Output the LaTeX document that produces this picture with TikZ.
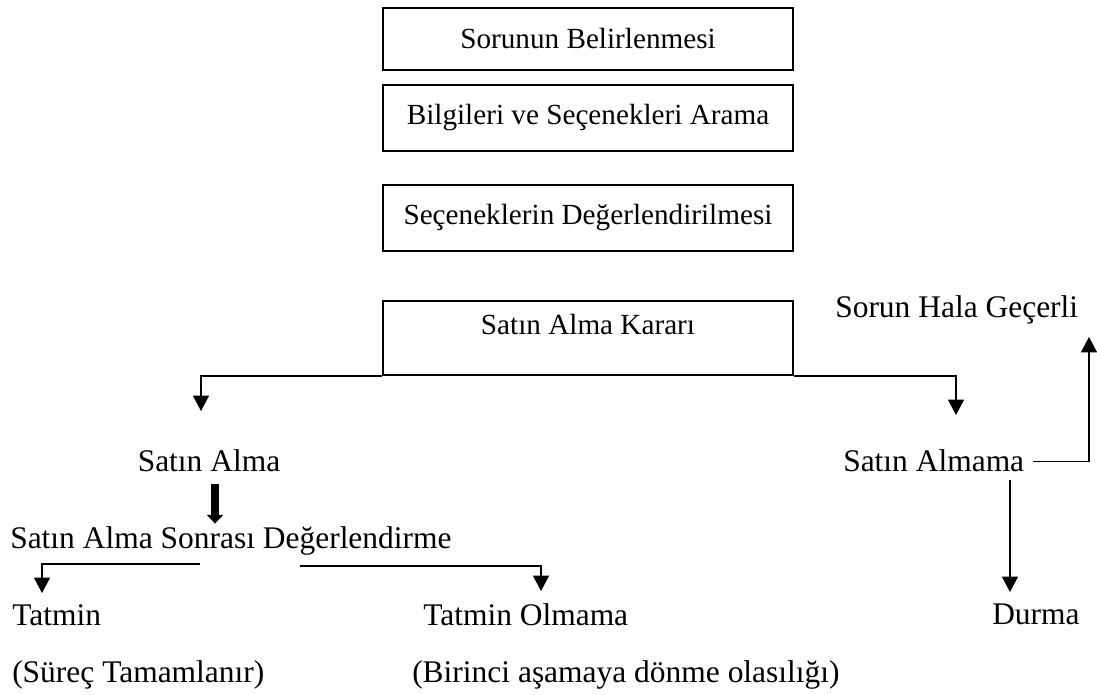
\documentclass[tikz,border=0pt]{standalone}
\usepackage{fontspec}
\setmainfont{Liberation Serif}
\usetikzlibrary{arrows.meta,positioning}

\begin{document}
\begin{tikzpicture}[
        x=0.75pt, y=-0.75pt,
        node distance=9.75pt,
        kutu/.style={draw, line width=1.5pt, minimum width=307.5pt, minimum height=49.5pt, font=\fontsize{21.9}{26}\selectfont},
        yazi/.style={inner sep=0pt, anchor=base west, font=\fontsize{23.6}{28}\selectfont},
        ok/.style={-{Triangle[length=11.5pt,width=12pt]}, line width=0.8pt},
        kalin/.style={-{Triangle[length=6.5pt,width=12pt]}, line width=5.5pt},
    ]
        \useasboundingbox (0,0) rectangle (1097,695);
        \node[kutu, minimum height=46.5pt] (sorun) at (588,39) {Sorunun Belirlenmesi};
        \node[kutu, below=of sorun] (bilgi) {Bilgileri ve Seçenekleri Arama};
        \node[kutu, below=24pt of bilgi] (secenek) {Seçeneklerin Değerlendirilmesi};
        \node[kutu, below=36pt of secenek, inner ysep=0pt, text height=25.5pt, text depth=30pt] (karar) {Satın Alma Kararı};
        \node[yazi] (gecerli) at (835,318) {Sorun Hala Geçerli};
        \node[yazi, anchor=base] (alma) at (209,472) {Satın Alma};
        \node[yazi] (almama) at (843,472) {Satın Almama};
        \node[yazi] (sonrasi) at (10,548) {Satın Alma Sonrası Değerlendirme};
        \node[yazi] (tatmin) at (12,625) {Tatmin};
        \node[yazi] (olmama) at (423,625) {Tatmin Olmama};
        \node[yazi] (durma) at (992,624) {Durma};
        \node[yazi] (surec) at (12,682) {(Süreç Tamamlanır)};
        \node[yazi] (birinci) at (412,682) {(Birinci aşamaya dönme olasılığı)};
        % ok uclari
        \coordinate (almaUc) at (201,411);
        \coordinate (almamaUc) at (956,415);
        \coordinate (gecerliUc) at (1089,337);
        \coordinate (durmaBas) at (1010,480);
        \coordinate (durmaUc) at (1010,592);
        \coordinate (solBas) at (200,564);
        \coordinate (tatminUc) at (42,593);
        \coordinate (sagBas) at (300,566);
        \coordinate (olmamaUc) at (541,591);
        \draw[ok] (karar.south west) -| (almaUc);
        \draw[ok] (karar.south east) -| (almamaUc);
        \draw[ok] ([xshift=6.75pt]almama.east) -| (gecerliUc);
        \draw[ok] (durmaBas) -- (durmaUc);
        \draw[kalin] ([xshift=4.5pt,yshift=-8.25pt]alma.south) -- ++(0,-30pt);
        \draw[ok] (solBas) -| (tatminUc);
        \draw[ok] (sagBas) -| (olmamaUc);
    \end{tikzpicture}
\end{document}
